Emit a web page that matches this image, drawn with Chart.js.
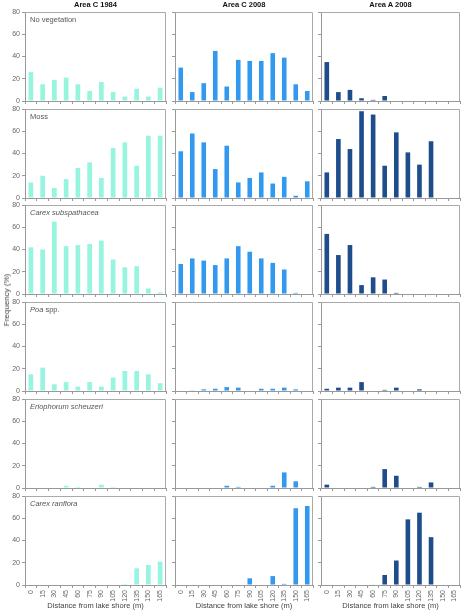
<!DOCTYPE html>
<html><head><meta charset="utf-8">
<script src="https://cdn.jsdelivr.net/npm/chart.js@4/dist/chart.umd.min.js"></script>
<style>
html,body{margin:0;padding:0;background:#fff;width:461px;height:610px;overflow:hidden;position:relative;font-family:"Liberation Sans",Arial,sans-serif}
canvas{position:absolute}
.lbl{position:absolute;white-space:nowrap;line-height:1}
</style></head><body>
<script>
// ---- data ----
const categories = ['0','15','30','45','60','75','90','105','120','135','150','165'];
const yTicks = [0, 20, 40, 60, 80];
const columnTitles = ['Area C 1984', 'Area C 2008', 'Area A 2008'];
const panelLabels = ['No vegetation', 'Moss', '<i>Carex subspathacea</i>', '<i>Poa</i> spp.', '<i>Eriophorum scheuzeri</i>', '<i>Carex ranflora</i>'];

const noVeg_C1984 = [26, 15, 19, 21, 15, 9, 17, 8, 4, 11, 4, 12];
const noVeg_C2008 = [30, 8, 16, 45, 13, 37, 36, 36, 43, 39, 15, 9];
const noVeg_A2008 = [35, 8, 10, 2.5, 1, 4.5, 0, 0, 0, 0, 0, 0];

const moss_C1984 = [14, 20, 9, 17, 27, 32, 18, 45, 50, 29, 56, 56];
const moss_C2008 = [42, 58, 50, 26, 47, 14, 18, 23, 13, 19, 2, 15];
const moss_A2008 = [23, 53, 44, 78, 75, 29, 59, 41, 30, 51, 0, 0];

const carexSub_C1984 = [42, 40, 65, 43, 44, 45, 48, 31, 24, 25, 5, 1.5];
const carexSub_C2008 = [27, 32, 30, 26, 32, 43, 38, 32, 28, 22, 1, 0];
const carexSub_A2008 = [54, 35, 44, 8, 15, 13, 1, 0, 0, 0, 0, 0];

const poa_C1984 = [15, 21, 6, 8, 4, 8, 4, 12, 18, 18, 15, 7];
const poa_C2008 = [0, 0.3, 1.5, 2, 3.5, 3, 0, 2, 2, 3, 1.5, 0];
const poa_A2008 = [2, 3, 3, 8, 0, 1, 3, 0, 1.5, 0, 0, 0];

const erio_C1984 = [0, 0, 0, 2, 1, 0, 3, 1, 0, 0, 0, 0];
const erio_C2008 = [0, 0, 0, 0, 2, 1, 0, 0, 2, 14, 6, 0];
const erio_A2008 = [3, 0, 0, 0, 1, 17, 11, 0, 1, 5, 0, 0];

const carexRar_C1984 = [0, 0, 0, 0, 0, 0, 0, 0, 1, 15, 18, 21];
const carexRar_C2008 = [0, 0, 0, 0, 0, 0, 6, 0, 8, 1, 69, 71];
const carexRar_A2008 = [0, 0, 0, 0, 0.5, 9, 22, 59, 65, 43, 0, 0];

const panelData = [
  [noVeg_C1984, noVeg_C2008, noVeg_A2008],
  [moss_C1984, moss_C2008, moss_A2008],
  [carexSub_C1984, carexSub_C2008, carexSub_A2008],
  [poa_C1984, poa_C2008, poa_A2008],
  [erio_C1984, erio_C2008, erio_A2008],
  [carexRar_C1984, carexRar_C2008, carexRar_A2008]
];

// ---- layout / style ----
const colColors = ['#97f5df', '#3399ee', '#1e4d8c'];
const colX = [[25, 166], [175, 313], [321, 460]];
const rowTop = [12, 109, 205, 302, 399, 496];
const plotH = 89;
const axisColor = '#999';
const FONT = '"Liberation Sans", Arial, sans-serif';

const boxPlugin = {
  id: 'box',
  afterDraw(chart) {
    const { ctx, chartArea: a } = chart;
    ctx.save();
    ctx.strokeStyle = '#aaa';
    ctx.lineWidth = 1;
    ctx.beginPath();
    ctx.moveTo(a.left, Math.round(a.top) + 0.5);
    ctx.lineTo(Math.round(a.right) - 0.5, Math.round(a.top) + 0.5);
    ctx.lineTo(Math.round(a.right) - 0.5, a.bottom);
    ctx.stroke();
    ctx.restore();
  }
};

function addLabel(html, style) {
  const d = document.createElement('div');
  d.className = 'lbl';
  d.innerHTML = html;
  Object.assign(d.style, style);
  document.body.appendChild(d);
  return d;
}

function makePanel(r, c) {
  const [x0, x1] = colX[c];
  const yW = c === 0 ? 25 : 6;
  const padTop = 5, padRight = 1;
  const xH = r === 5 ? 610 - (rowTop[r] + plotH) : 8;
  const w = yW + (x1 - x0) + padRight;
  const h = padTop + plotH + xH;
  const cv = document.createElement('canvas');
  cv.width = w; cv.height = h;
  cv.style.width = w + 'px'; cv.style.height = h + 'px';
  cv.style.left = (x0 - yW) + 'px';
  cv.style.top = (rowTop[r] - padTop) + 'px';
  document.body.appendChild(cv);
  new Chart(cv, {
    type: 'bar',
    data: {
      labels: categories,
      datasets: [{ data: panelData[r][c], backgroundColor: colColors[c], borderWidth: 0,
        barPercentage: 0.4, categoryPercentage: 1 }]
    },
    options: {
      responsive: false, animation: false, devicePixelRatio: 1,
      layout: { padding: { top: padTop, right: padRight, left: 0, bottom: 0 } },
      plugins: { legend: { display: false }, tooltip: { enabled: false } },
      scales: {
        x: {
          grid: { drawOnChartArea: false, offset: true, tickLength: 3, color: axisColor },
          border: { color: axisColor },
          ticks: { display: r === 5, minRotation: 90, maxRotation: 90, autoSkip: false,
            font: { size: 7, family: FONT }, color: '#666', padding: 2 },
          title: { display: r === 5, text: 'Distance from lake shore (m)', color: '#444',
            font: { size: 7.5, family: FONT }, padding: 0 },
          afterFit(s) { s.height = xH; s.paddingLeft = 0; s.paddingRight = 0; }
        },
        y: {
          min: yTicks[0], max: yTicks[yTicks.length - 1],
          ticks: { stepSize: yTicks[1] - yTicks[0], display: c === 0,
            font: { size: 7, family: FONT }, color: '#666', padding: 2 },
          grid: { drawOnChartArea: false, tickLength: 3, color: axisColor },
          border: { color: axisColor },
          afterFit(s) { s.width = yW; s.paddingTop = 0; s.paddingBottom = 0; }
        }
      }
    },
    plugins: [boxPlugin]
  });
}

for (let r = 0; r < 6; r++) for (let c = 0; c < 3; c++) makePanel(r, c);

// column titles
columnTitles.forEach((t, c) => {
  const cx = (colX[c][0] + colX[c][1]) / 2;
  addLabel(t, { left: (cx - 40) + 'px', width: '80px', textAlign: 'center', top: '1px',
    fontSize: '7.5px', fontWeight: 'bold', color: '#111' });
});
// panel labels
panelLabels.forEach((t, r) => {
  addLabel(t, { left: '30px', top: (rowTop[r] + 4) + 'px', fontSize: '7.5px', color: '#555' });
});
// y axis title
addLabel('Frequency (%)', { left: '7px', top: '300px', fontSize: '8px', color: '#444',
  transform: 'translate(-50%,-50%) rotate(-90deg)' });
</script>
</body></html>
